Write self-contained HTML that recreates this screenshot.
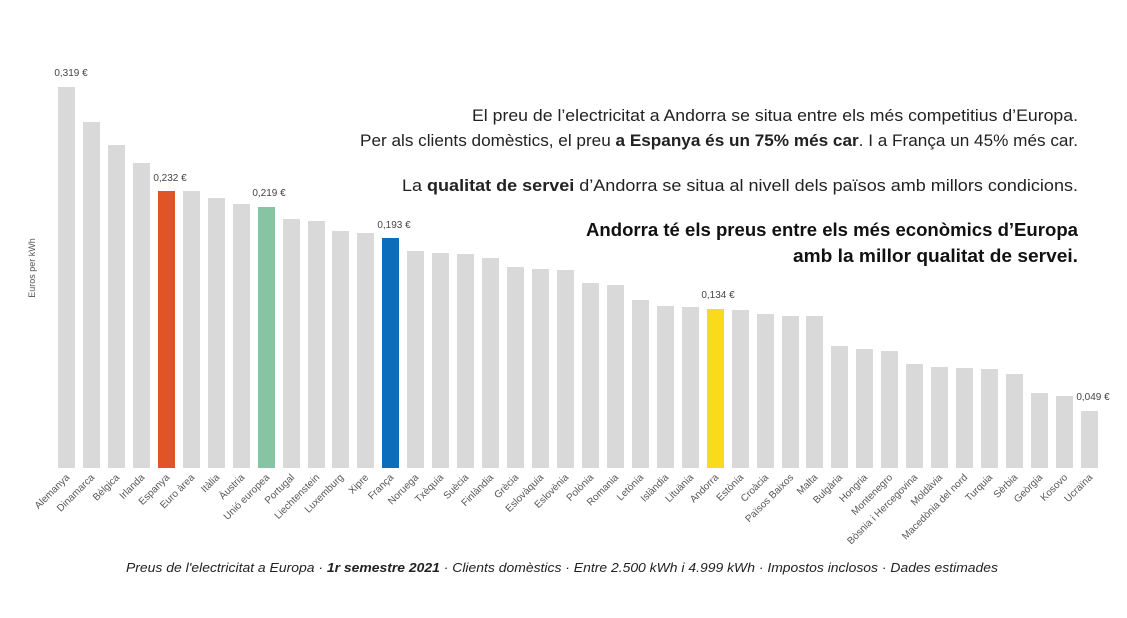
<!DOCTYPE html><html><head><meta charset="utf-8"><style>
body{margin:0;background:#fff;width:1127px;height:613px;overflow:hidden}
svg text{font-family:"Liberation Sans",sans-serif}
</style></head><body>
<svg width="1127" height="613" xmlns="http://www.w3.org/2000/svg">
<g fill="#d9d9d9">
<rect x="58" y="87" width="17" height="381"/>
<rect x="83" y="122" width="17" height="346"/>
<rect x="108" y="145" width="17" height="323"/>
<rect x="133" y="163" width="17" height="305"/>
<rect x="158" y="191" width="17" height="277" fill="#e05428"/>
<rect x="183" y="191" width="17" height="277"/>
<rect x="208" y="198" width="17" height="270"/>
<rect x="233" y="204" width="17" height="264"/>
<rect x="258" y="207" width="17" height="261" fill="#86c5a3"/>
<rect x="283" y="219" width="17" height="249"/>
<rect x="308" y="221" width="17" height="247"/>
<rect x="332" y="231" width="17" height="237"/>
<rect x="357" y="233" width="17" height="235"/>
<rect x="382" y="238" width="17" height="230" fill="#0a6ebd"/>
<rect x="407" y="251" width="17" height="217"/>
<rect x="432" y="253" width="17" height="215"/>
<rect x="457" y="254" width="17" height="214"/>
<rect x="482" y="258" width="17" height="210"/>
<rect x="507" y="267" width="17" height="201"/>
<rect x="532" y="269" width="17" height="199"/>
<rect x="557" y="270" width="17" height="198"/>
<rect x="582" y="283" width="17" height="185"/>
<rect x="607" y="285" width="17" height="183"/>
<rect x="632" y="300" width="17" height="168"/>
<rect x="657" y="306" width="17" height="162"/>
<rect x="682" y="307" width="17" height="161"/>
<rect x="707" y="309" width="17" height="159" fill="#fbd91b"/>
<rect x="732" y="310" width="17" height="158"/>
<rect x="757" y="314" width="17" height="154"/>
<rect x="782" y="316" width="17" height="152"/>
<rect x="806" y="316" width="17" height="152"/>
<rect x="831" y="346" width="17" height="122"/>
<rect x="856" y="349" width="17" height="119"/>
<rect x="881" y="351" width="17" height="117"/>
<rect x="906" y="364" width="17" height="104"/>
<rect x="931" y="367" width="17" height="101"/>
<rect x="956" y="368" width="17" height="100"/>
<rect x="981" y="369" width="17" height="99"/>
<rect x="1006" y="374" width="17" height="94"/>
<rect x="1031" y="393" width="17" height="75"/>
<rect x="1056" y="396" width="17" height="72"/>
<rect x="1081" y="411" width="17" height="57"/>
</g>
<g font-size="10" fill="#444" text-anchor="middle">
<text x="71" y="76">0,319 €</text>
<text x="170" y="181">0,232 €</text>
<text x="269" y="196">0,219 €</text>
<text x="394" y="228">0,193 €</text>
<text x="718" y="298">0,134 €</text>
<text x="1093" y="400">0,049 €</text>
</g>
<text transform="translate(35,268) rotate(-90)" font-size="9" fill="#555" text-anchor="middle">Euros per kWh</text>
<g font-size="10" fill="#555" text-anchor="end">
<text transform="translate(70,478) rotate(-45)">Alemanya</text>
<text transform="translate(95,478) rotate(-45)">Dinamarca</text>
<text transform="translate(120,478) rotate(-45)">Bèlgica</text>
<text transform="translate(145,478) rotate(-45)">Irlanda</text>
<text transform="translate(170,478) rotate(-45)">Espanya</text>
<text transform="translate(195,478) rotate(-45)">Euro àrea</text>
<text transform="translate(220,478) rotate(-45)">Itàlia</text>
<text transform="translate(245,478) rotate(-45)">Àustria</text>
<text transform="translate(270,478) rotate(-45)">Unió europea</text>
<text transform="translate(295,478) rotate(-45)">Portugal</text>
<text transform="translate(320,478) rotate(-45)">Liechtenstein</text>
<text transform="translate(344,478) rotate(-45)">Luxemburg</text>
<text transform="translate(369,478) rotate(-45)">Xipre</text>
<text transform="translate(394,478) rotate(-45)">França</text>
<text transform="translate(419,478) rotate(-45)">Noruega</text>
<text transform="translate(444,478) rotate(-45)">Txèquia</text>
<text transform="translate(469,478) rotate(-45)">Suècia</text>
<text transform="translate(494,478) rotate(-45)">Finlàndia</text>
<text transform="translate(519,478) rotate(-45)">Grècia</text>
<text transform="translate(544,478) rotate(-45)">Eslovàquia</text>
<text transform="translate(569,478) rotate(-45)">Eslovènia</text>
<text transform="translate(594,478) rotate(-45)">Polònia</text>
<text transform="translate(619,478) rotate(-45)">Romania</text>
<text transform="translate(644,478) rotate(-45)">Letònia</text>
<text transform="translate(669,478) rotate(-45)">Islàndia</text>
<text transform="translate(694,478) rotate(-45)">Lituània</text>
<text transform="translate(719,478) rotate(-45)">Andorra</text>
<text transform="translate(744,478) rotate(-45)">Estònia</text>
<text transform="translate(769,478) rotate(-45)">Croàcia</text>
<text transform="translate(794,478) rotate(-45)">Països Baixos</text>
<text transform="translate(818,478) rotate(-45)">Malta</text>
<text transform="translate(843,478) rotate(-45)">Bulgària</text>
<text transform="translate(868,478) rotate(-45)">Hongria</text>
<text transform="translate(893,478) rotate(-45)">Montenegro</text>
<text transform="translate(918,478) rotate(-45)">Bòsnia i Hercegovina</text>
<text transform="translate(943,478) rotate(-45)">Moldàvia</text>
<text transform="translate(968,478) rotate(-45)">Macedònia del nord</text>
<text transform="translate(993,478) rotate(-45)">Turquia</text>
<text transform="translate(1018,478) rotate(-45)">Sèrbia</text>
<text transform="translate(1043,478) rotate(-45)">Geòrgia</text>
<text transform="translate(1068,478) rotate(-45)">Kosovo</text>
<text transform="translate(1093,478) rotate(-45)">Ucraïna</text>
</g>
<g fill="#222">
<text x="472" y="121" font-size="16.5" textLength="606" lengthAdjust="spacingAndGlyphs">El preu de l’electricitat a Andorra se situa entre els més competitius d’Europa.</text>
<text x="360" y="146" font-size="16.5" textLength="718" lengthAdjust="spacingAndGlyphs">Per als clients domèstics, el preu <tspan font-weight="bold">a Espanya és un 75% més car</tspan>. I a França un 45% més car.</text>
<text x="402" y="191" font-size="16.5" textLength="676" lengthAdjust="spacingAndGlyphs">La <tspan font-weight="bold">qualitat de servei</tspan> d’Andorra se situa al nivell dels països amb millors condicions.</text>
<text x="586" y="236" font-size="18.5" font-weight="bold" fill="#111" textLength="492" lengthAdjust="spacingAndGlyphs">Andorra té els preus entre els més econòmics d’Europa</text>
<text x="793" y="262" font-size="18.5" font-weight="bold" fill="#111" textLength="285" lengthAdjust="spacingAndGlyphs">amb la millor qualitat de servei.</text>
</g>
<text x="126" y="572" font-size="13" font-style="italic" fill="#222" textLength="872" lengthAdjust="spacingAndGlyphs">Preus de l'electricitat a Europa · <tspan font-weight="bold">1r semestre 2021</tspan> · Clients domèstics · Entre 2.500 kWh i 4.999 kWh · Impostos inclosos · Dades estimades</text>
</svg>
</body></html>
